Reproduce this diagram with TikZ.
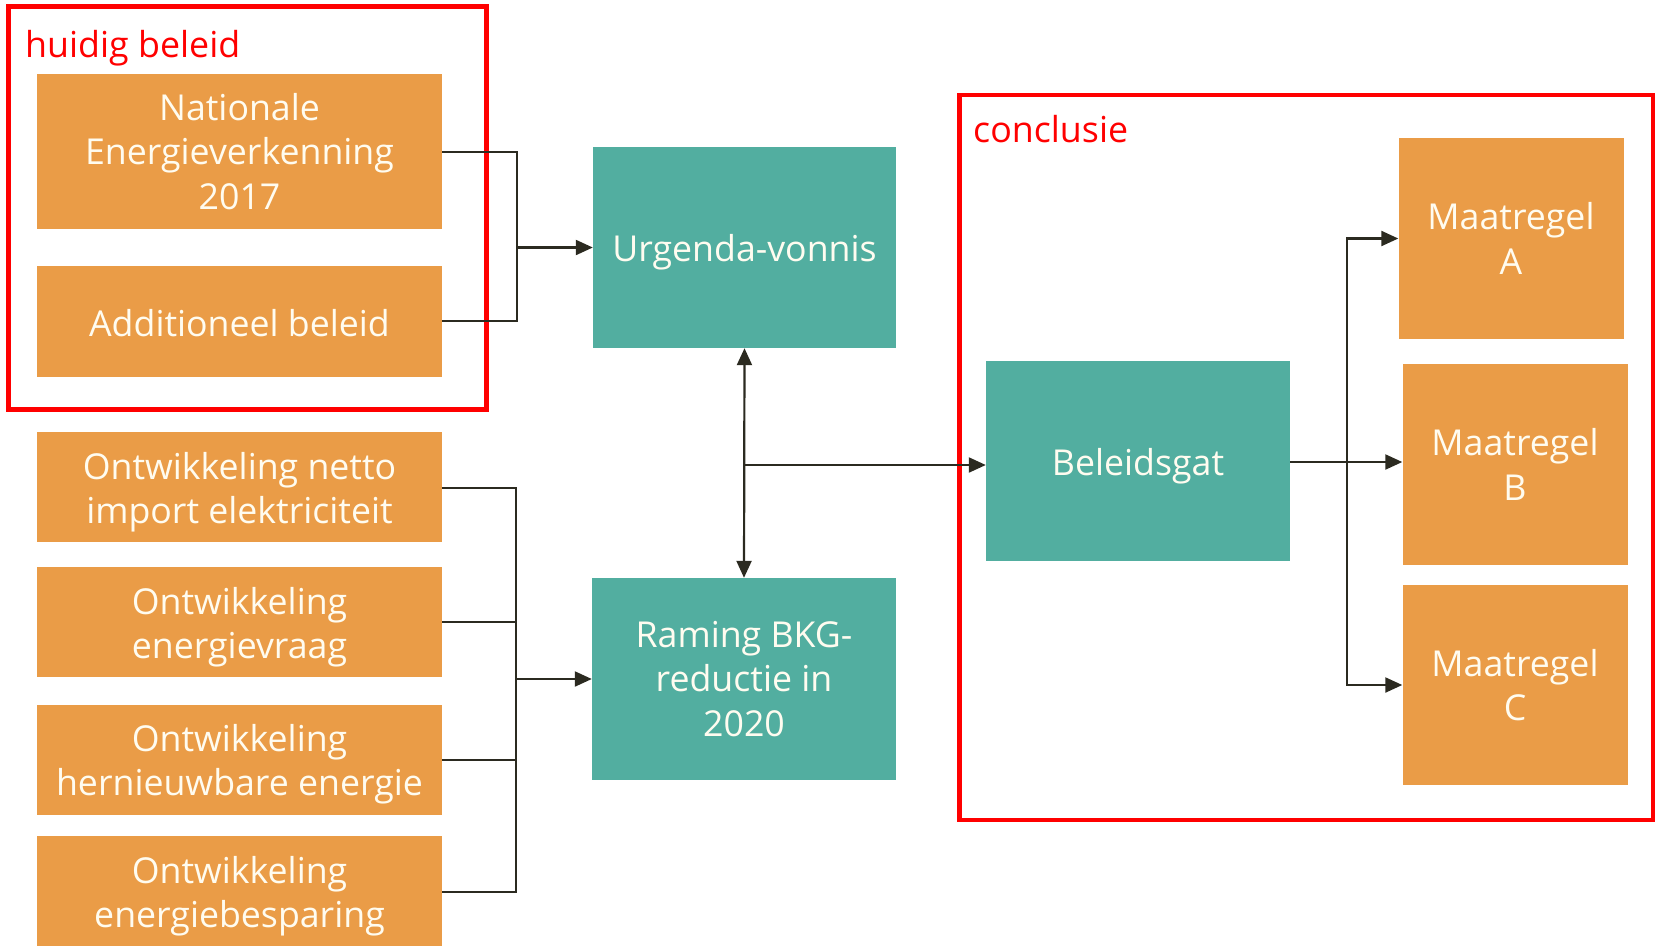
\documentclass[tikz,border=0pt]{standalone}
\usepackage{fontspec}
\setmainfont{Open Sans}
\usetikzlibrary{arrows.meta}
\definecolor{boxorange}{RGB}{234,156,71}
\definecolor{boxteal}{RGB}{82,174,160}
\definecolor{conn}{RGB}{43,42,32}
\definecolor{boxtext}{RGB}{255,252,240}
\newcommand{\lowstrut}[1]{\rule{0pt}{#1}}
\tikzset{
  obox/.style={fill=boxorange, draw=none, inner sep=0pt, align=center, text=boxtext,
    font=\fontsize{35.7}{44.3}\selectfont},
  tbox/.style={fill=boxteal, draw=none, inner sep=0pt, align=center, text=boxtext,
    font=\fontsize{35.7}{44.3}\selectfont},
  redframe/.style={draw=red, line width=4.5pt},
  redlabel/.style={text=red, anchor=west, inner sep=0pt, font=\fontsize{35.8}{40}\selectfont},
  conline/.style={draw=conn, line width=2.2pt},
  conarrow/.style={conline, -{Triangle[length=17pt,width=15pt]}},
  dblarrow/.style={conline, {Triangle[length=17pt,width=15pt]}-{Triangle[length=17pt,width=15pt]}},
}
\begin{document}
\begin{tikzpicture}[x=1pt,y=-1pt]
\useasboundingbox (0,0) rectangle (1655,946);
% frames
\draw[redframe] (8.4,6.3) rectangle (486.6,409.5);
\draw[redframe] (959.5,95) rectangle (1653,820);
\node[redlabel] (lhuidig) at (25,48) {huidig beleid};
\node[redlabel] (lconcl) at (973,129) {conclusie};
% left boxes
\node[obox, minimum width=405pt, minimum height=155pt] (ne) at (239.5,151.5) {Nationale\\Energieverkenning\\2017};
\node[obox, minimum width=405pt, minimum height=111pt] (ab) at (239.5,321.5) {\lowstrut{31pt}Additioneel beleid};
\node[obox, minimum width=405pt, minimum height=110pt] (o1) at (239.5,487) {\lowstrut{37pt}Ontwikkeling netto\\import elektriciteit};
\node[obox, minimum width=405pt, minimum height=110pt] (o2) at (239.5,622) {\lowstrut{37pt}Ontwikkeling\\energievraag};
\node[obox, minimum width=405pt, minimum height=110pt] (o3) at (239.5,759.5) {\lowstrut{37pt}Ontwikkeling\\hernieuwbare energie};
\node[obox, minimum width=405pt, minimum height=110pt] (o4) at (239.5,891) {\lowstrut{37pt}Ontwikkeling\\energiebesparing};
% middle
\node[tbox, minimum width=303pt, minimum height=201pt] (urg) at (744.5,247.5) {\lowstrut{37.5pt}Urgenda-vonnis};
\node[tbox, minimum width=304pt, minimum height=202pt] (ram) at (744,679) {Raming BKG-\\reductie in\\2020};
% right
\node[tbox, minimum width=304pt, minimum height=200pt] (bg) at (1138,461) {\lowstrut{37.5pt}Beleidsgat};
\node[obox, minimum width=225pt, minimum height=201pt] (ma) at (1511,238.5) {Maatregel\\A};
\node[obox, minimum width=225pt, minimum height=201pt] (mb) at (1515,464.5) {Maatregel\\B};
\node[obox, minimum width=225pt, minimum height=200pt] (mc) at (1515,685) {Maatregel\\C};
% junction coordinates
\coordinate (j1) at (517,247.5);
\coordinate (j2) at (516,679);
\coordinate (j3) at (745,465);
\coordinate (j4) at (1347,462);
% connectors top-left
\draw[conline] (ne.east |- 0,152) -| (j1);
\draw[conline] (ab.east |- 0,321) -| (j1);
\draw[conarrow] (j1) -- (urg.west |- j1);
% bottom-left
\draw[conline] (o1.east |- 0,487.6) -| (j2);
\draw[conline] (o2.east |- 0,621.7) -| (j2);
\draw[conline] (o3.east |- 0,760) -| (j2);
\draw[conline] (o4.east |- 0,892) -| (j2);
\draw[conarrow] (j2) -- (ram.west |- j2);
% middle
\draw[dblarrow] (urg.south) -- (ram.north);
\draw[conarrow] (j3) -- (bg.west |- j3);
% right
\draw[conline] (bg.east |- j4) -- (j4);
\draw[conarrow] (j4) |- (ma.west |- 0,238.5);
\draw[conarrow] (j4) -- (mb.west |- j4);
\draw[conarrow] (j4) |- (mc.west |- 0,685);
\end{tikzpicture}
\end{document}
